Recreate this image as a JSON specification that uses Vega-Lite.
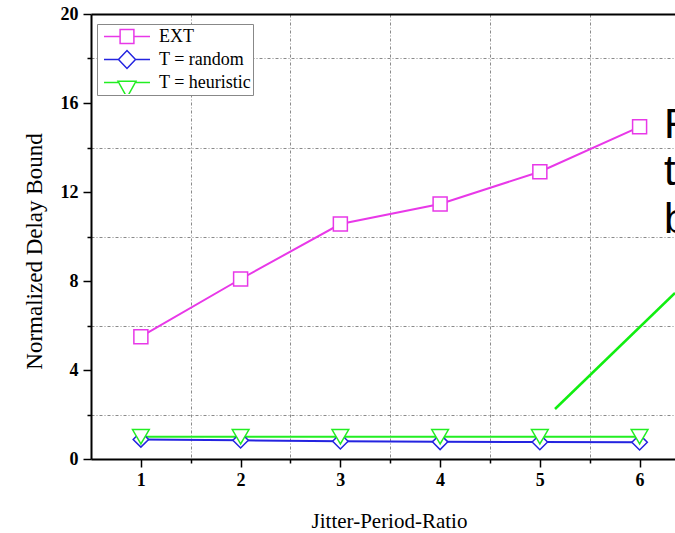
{
  "$schema": "https://vega.github.io/schema/vega-lite/v6.json",
  "width": 584,
  "height": 445,
  "autosize": {"type": "none"},
  "padding": {"left": 91, "top": 14, "right": 0, "bottom": 74},
  "background": "white",
  "config": {"view": {"stroke": null}, "font": "Liberation Serif"},
  "data": {
    "values": [
      {"ratio": 1, "series": "EXT", "bound": 5.5},
      {"ratio": 2, "series": "EXT", "bound": 8.09},
      {"ratio": 3, "series": "EXT", "bound": 10.56},
      {"ratio": 4, "series": "EXT", "bound": 11.46},
      {"ratio": 5, "series": "EXT", "bound": 12.91},
      {"ratio": 6, "series": "EXT", "bound": 14.93},
      {"ratio": 1, "series": "T = random", "bound": 0.88},
      {"ratio": 2, "series": "T = random", "bound": 0.84},
      {"ratio": 3, "series": "T = random", "bound": 0.8},
      {"ratio": 4, "series": "T = random", "bound": 0.77},
      {"ratio": 5, "series": "T = random", "bound": 0.76},
      {"ratio": 6, "series": "T = random", "bound": 0.75},
      {"ratio": 1, "series": "T = heuristic", "bound": 1.0},
      {"ratio": 2, "series": "T = heuristic", "bound": 1.0},
      {"ratio": 3, "series": "T = heuristic", "bound": 1.0},
      {"ratio": 4, "series": "T = heuristic", "bound": 1.0},
      {"ratio": 5, "series": "T = heuristic", "bound": 1.0},
      {"ratio": 6, "series": "T = heuristic", "bound": 1.0}
    ]
  },
  "layer": [
    {
      "mark": {"type": "line", "strokeWidth": 2},
      "encoding": {
        "x": {"field": "ratio", "type": "quantitative",
          "scale": {"domain": [0.5, 6.355], "nice": false, "zero": false},
          "axis": {"orient": "bottom", "values": [1.5, 2.5, 3.5, 4.5, 5.5], "grid": true, "gridColor": "#8a8a8a", "gridDash": [3, 2, 1, 2], "gridWidth": 1, "labels": false, "domain": false, "ticks": true, "tickSize": 4, "tickColor": "black", "tickWidth": 1.5, "title": null}},
        "y": {"field": "bound", "type": "quantitative",
          "scale": {"domain": [0, 20], "nice": false, "zero": true},
          "axis": {"orient": "left", "values": [2, 6, 10, 14, 18], "grid": true, "gridColor": "#8a8a8a", "gridDash": [3, 2, 1, 2], "gridWidth": 1, "labels": false, "domain": false, "ticks": true, "tickSize": 4, "tickColor": "black", "tickWidth": 1.5, "title": null}},
        "color": {"field": "series", "type": "nominal",
          "scale": {"domain": ["EXT", "T = random", "T = heuristic"], "range": ["#e838e8", "#2424e0", "#22ee22"]},
          "legend": null}
      }
    },
    {
      "mark": {"type": "point", "filled": false, "fill": "white", "strokeWidth": 1.5, "opacity": 1},
      "encoding": {
        "x": {"field": "ratio", "type": "quantitative",
          "scale": {"domain": [0.5, 6.355], "nice": false, "zero": false},
          "axis": {"orient": "bottom", "values": [1, 2, 3, 4, 5, 6], "format": "d", "grid": false, "domainColor": "black", "domainWidth": 2, "tickColor": "black", "tickWidth": 1.5, "tickSize": 8, "labelFont": "Liberation Serif", "labelFontWeight": "bold", "labelFontSize": 18, "labelColor": "black", "labelPadding": 4, "title": "Jitter-Period-Ratio", "titleFont": "Liberation Serif", "titleFontWeight": "normal", "titleFontSize": 21, "titleColor": "black", "titleX": 298, "titleY": 68, "titleBaseline": "alphabetic", "titleAlign": "center"}},
        "y": {"field": "bound", "type": "quantitative",
          "scale": {"domain": [0, 20], "nice": false, "zero": true},
          "axis": {"orient": "left", "values": [0, 4, 8, 12, 16, 20], "format": "d", "grid": false, "domainColor": "black", "domainWidth": 2, "tickColor": "black", "tickWidth": 1.5, "tickSize": 8, "labelFont": "Liberation Serif", "labelFontWeight": "bold", "labelFontSize": 18, "labelColor": "black", "labelPadding": 5, "title": "Normalized Delay Bound", "titleFont": "Liberation Serif", "titleFontWeight": "normal", "titleFontSize": 23, "titleColor": "black", "titleX": -50, "titleY": 237, "titleBaseline": "alphabetic", "titleAlign": "center", "titleAngle": -90}},
        "color": {"field": "series", "type": "nominal",
          "scale": {"domain": ["EXT", "T = random", "T = heuristic"], "range": ["#e838e8", "#2424e0", "#22ee22"]},
          "legend": null},
        "shape": {"field": "series", "type": "nominal",
          "scale": {"domain": ["EXT", "T = random", "T = heuristic"], "range": ["square", "diamond", "triangle-down"]},
          "legend": null},
        "size": {"field": "series", "type": "nominal",
          "scale": {"domain": ["EXT", "T = random", "T = heuristic"], "range": [196, 280, 300]},
          "legend": null}
      }
    },
    {
      "data": {"values": [{"ax": 5.152, "ay": 2.247}, {"ax": 6.355, "ay": 7.46}]},
      "mark": {"type": "line", "color": "#11ee11", "strokeWidth": 2.5, "clip": true},
      "encoding": {
        "x": {"field": "ax", "type": "quantitative", "scale": {"domain": [0.5, 6.355], "nice": false, "zero": false}, "axis": null},
        "y": {"field": "ay", "type": "quantitative", "scale": {"domain": [0, 20], "nice": false}, "axis": null}
      }
    },
    {
      "data": {"values": [
        {"tx": 6.245, "ty": 14.43, "word": "F"},
        {"tx": 6.245, "ty": 12.31, "word": "t"},
        {"tx": 6.245, "ty": 10.16, "word": "b"}
      ]},
      "mark": {"type": "text", "align": "left", "baseline": "alphabetic", "font": "Liberation Sans", "fontSize": 42, "color": "black"},
      "encoding": {
        "x": {"field": "tx", "type": "quantitative", "scale": {"domain": [0.5, 6.355], "nice": false, "zero": false},
          "axis": {"orient": "top", "domain": true, "domainColor": "black", "domainWidth": 2, "ticks": false, "labels": false, "grid": false, "title": null}},
        "y": {"field": "ty", "type": "quantitative", "scale": {"domain": [0, 20], "nice": false}, "axis": null},
        "text": {"field": "word"}
      }
    },
    {
      "transform": [{"filter": "datum.ratio < 0"}],
      "mark": {"type": "point", "filled": false, "strokeWidth": 1.5, "opacity": 1},
      "encoding": {
        "x": {"field": "ratio", "type": "quantitative", "scale": {"domain": [0.5, 6.355], "nice": false, "zero": false}, "axis": null},
        "y": {"field": "bound", "type": "quantitative", "scale": {"domain": [0, 20], "nice": false}, "axis": null},
        "color": {"field": "series", "type": "nominal",
          "scale": {"domain": ["EXT", "T = random", "T = heuristic"], "range": ["#e838e8", "#2424e0", "#22ee22"]},
          "legend": {"orient": "none", "legendX": 6, "legendY": 10, "padding": 1, "symbolSize": 2116, "clipHeight": 23, "symbolOffset": 5, "labelOffset": 8, "strokeColor": "#888", "fillColor": "white", "labelFont": "Liberation Serif", "labelFontSize": 18, "labelColor": "black", "title": null, "symbolStrokeWidth": 1.5, "symbolOpacity": 1, "rowPadding": 0, "labelLimit": 0}},
        "shape": {"field": "series", "type": "nominal",
          "scale": {"domain": ["EXT", "T = random", "T = heuristic"], "range": [
            "M-1,0H-0.3M0.3,0H1M-0.3,-0.3H0.3V0.3H-0.3Z",
            "M-1,0H-0.37M0.37,0H1M-0.37,0L0,-0.39L0.37,0L0,0.39Z",
            "M-1,0H-0.39M0.39,0H1M-0.39,-0.05H0.39L0,0.65Z"
          ]},
          "legend": {"orient": "none", "legendX": 6, "legendY": 10, "padding": 1, "symbolSize": 2116, "clipHeight": 23, "symbolOffset": 5, "labelOffset": 8, "strokeColor": "#888", "fillColor": "white", "labelFont": "Liberation Serif", "labelFontSize": 18, "labelColor": "black", "title": null, "symbolStrokeWidth": 1.5, "symbolOpacity": 1, "rowPadding": 0, "labelLimit": 0}}
      }
    }
  ],
  "resolve": {"scale": {"shape": "independent", "color": "independent"}, "axis": {"x": "independent", "y": "independent"}}
}
